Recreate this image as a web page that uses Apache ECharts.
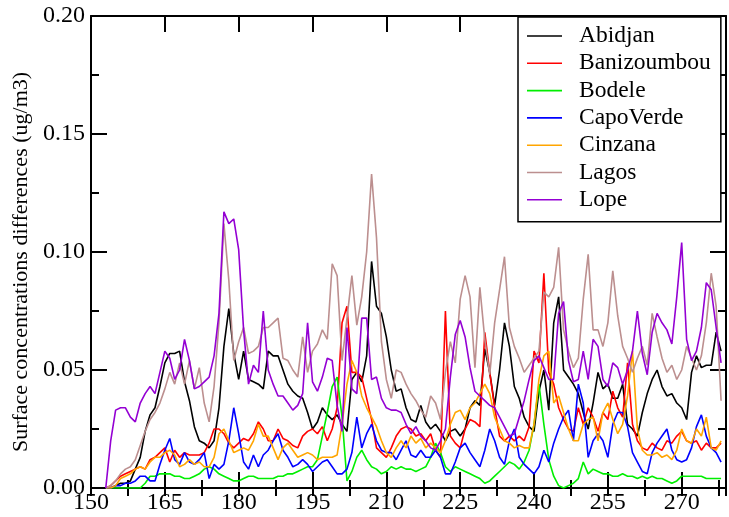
<!DOCTYPE html>
<html>
<head>
<meta charset="utf-8">
<script src="https://cdn.jsdelivr.net/npm/echarts@6/dist/echarts.min.js"></script>
<style>
  html, body { margin: 0; padding: 0; background: #fff; }
  #chart { width: 729px; height: 517px; }
</style>
</head>
<body>
<div id="chart"></div>
<script>
// Daily surface concentration differences (ug/m3), one value per day starting at day 153
const firstDay = 153;

const abidjan = [
  0.000, 0.000, 0.001, 0.002, 0.002, 0.003, 0.008, 0.013, 0.024, 0.031,
  0.034, 0.043, 0.053, 0.057, 0.057, 0.058, 0.045, 0.037, 0.026, 0.020,
  0.019, 0.017, 0.020, 0.034, 0.060, 0.076, 0.057, 0.046, 0.058, 0.046,
  0.045, 0.044, 0.042, 0.058, 0.056, 0.056, 0.050, 0.044, 0.041, 0.039,
  0.038, 0.032, 0.025, 0.028, 0.034, 0.031, 0.029, 0.031, 0.027, 0.024,
  0.046, 0.049, 0.045, 0.056, 0.096, 0.077, 0.074, 0.064, 0.050, 0.041,
  0.042, 0.034, 0.029, 0.028, 0.035, 0.028, 0.025, 0.027, 0.024, 0.020,
  0.024, 0.025, 0.022, 0.025, 0.034, 0.037, 0.035, 0.059, 0.049, 0.035,
  0.050, 0.070, 0.060, 0.043, 0.038, 0.030, 0.026, 0.024, 0.041, 0.050,
  0.033, 0.070, 0.081, 0.050, 0.047, 0.044, 0.040, 0.032, 0.025, 0.036,
  0.049, 0.042, 0.044, 0.038, 0.038, 0.044, 0.027, 0.025, 0.022, 0.032,
  0.040, 0.046, 0.050, 0.043, 0.039, 0.040, 0.036, 0.034, 0.029, 0.049,
  0.056, 0.051, 0.052, 0.052, 0.066, 0.058
];

const banizoumbou = [
  0.000, 0.001, 0.003, 0.005, 0.006, 0.007, 0.008, 0.009, 0.008, 0.012,
  0.013, 0.015, 0.017, 0.011, 0.016, 0.013, 0.015, 0.014, 0.014, 0.014,
  0.015, 0.019, 0.025, 0.025, 0.023, 0.019, 0.017, 0.019, 0.021, 0.020,
  0.023, 0.028, 0.025, 0.020, 0.020, 0.025, 0.021, 0.020, 0.018, 0.017,
  0.022, 0.024, 0.025, 0.023, 0.026, 0.020, 0.025, 0.034, 0.070, 0.077,
  0.049, 0.049, 0.047, 0.038, 0.029, 0.017, 0.015, 0.013, 0.017, 0.022,
  0.025, 0.026, 0.025, 0.022, 0.023, 0.020, 0.023, 0.016, 0.013, 0.075,
  0.022, 0.019, 0.017, 0.025, 0.029, 0.028, 0.026, 0.066, 0.049, 0.034,
  0.022, 0.020, 0.022, 0.020, 0.022, 0.020, 0.026, 0.058, 0.053, 0.091,
  0.049, 0.044, 0.034, 0.029, 0.025, 0.024, 0.034, 0.027, 0.034, 0.030,
  0.024, 0.032, 0.029, 0.041, 0.034, 0.030, 0.053, 0.027, 0.020, 0.017,
  0.016, 0.019, 0.017, 0.016, 0.020, 0.019, 0.022, 0.024, 0.020, 0.019,
  0.020, 0.016, 0.019, 0.017, 0.017, 0.019
];

const bodele = [
  0.000, 0.000, 0.000, 0.000, 0.000, 0.000, 0.000, 0.000, 0.002, 0.005,
  0.005, 0.006, 0.006, 0.006, 0.005, 0.005, 0.004, 0.004, 0.005, 0.006,
  0.008, 0.009, 0.008, 0.006, 0.005, 0.004, 0.003, 0.003, 0.004, 0.005,
  0.005, 0.004, 0.004, 0.004, 0.004, 0.005, 0.005, 0.006, 0.006, 0.007,
  0.008, 0.009, 0.009, 0.012, 0.022, 0.032, 0.043, 0.047, 0.030, 0.003,
  0.007, 0.013, 0.016, 0.012, 0.009, 0.008, 0.006, 0.007, 0.009, 0.008,
  0.009, 0.008, 0.008, 0.007, 0.008, 0.009, 0.013, 0.019, 0.015, 0.009,
  0.007, 0.009, 0.008, 0.007, 0.006, 0.005, 0.004, 0.002, 0.003, 0.005,
  0.007, 0.009, 0.011, 0.010, 0.008, 0.011, 0.016, 0.027, 0.044, 0.027,
  0.012, 0.005, 0.001, 0.000, 0.001, 0.002, 0.004, 0.011, 0.006, 0.008,
  0.007, 0.006, 0.006, 0.005, 0.005, 0.006, 0.005, 0.005, 0.004, 0.005,
  0.004, 0.005, 0.004, 0.004, 0.003, 0.002, 0.003, 0.005, 0.005, 0.005,
  0.005, 0.005, 0.004, 0.004, 0.004, 0.004
];

const capoVerde = [
  0.000, 0.000, 0.001, 0.001, 0.002, 0.002, 0.003, 0.005, 0.005, 0.003,
  0.003, 0.010, 0.016, 0.021, 0.012, 0.010, 0.015, 0.011, 0.010, 0.012,
  0.015, 0.004, 0.010, 0.008, 0.010, 0.020, 0.034, 0.023, 0.011, 0.008,
  0.014, 0.009, 0.014, 0.016, 0.020, 0.023, 0.016, 0.013, 0.009, 0.010,
  0.012, 0.010, 0.007, 0.009, 0.011, 0.012, 0.009, 0.006, 0.006, 0.008,
  0.015, 0.030, 0.017, 0.023, 0.027, 0.020, 0.016, 0.015, 0.015, 0.012,
  0.016, 0.020, 0.014, 0.013, 0.016, 0.013, 0.013, 0.016, 0.013, 0.006,
  0.006, 0.011, 0.017, 0.019, 0.015, 0.012, 0.009, 0.016, 0.025, 0.020,
  0.013, 0.010, 0.020, 0.025, 0.013, 0.010, 0.008, 0.006, 0.009, 0.016,
  0.011, 0.019, 0.025, 0.030, 0.033, 0.020, 0.044, 0.036, 0.013, 0.020,
  0.023, 0.020, 0.013, 0.027, 0.032, 0.032, 0.026, 0.015, 0.011, 0.007,
  0.006, 0.015, 0.019, 0.022, 0.025, 0.016, 0.012, 0.011, 0.012, 0.017,
  0.026, 0.031, 0.022, 0.017, 0.015, 0.011
];

const cinzana = [
  0.000, 0.000, 0.001, 0.004, 0.005, 0.006, 0.008, 0.009, 0.008, 0.011,
  0.013, 0.013, 0.015, 0.016, 0.014, 0.009, 0.010, 0.012, 0.010, 0.011,
  0.009, 0.009, 0.013, 0.023, 0.025, 0.020, 0.015, 0.016, 0.017, 0.016,
  0.020, 0.027, 0.022, 0.022, 0.017, 0.012, 0.017, 0.019, 0.016, 0.013,
  0.014, 0.015, 0.014, 0.012, 0.013, 0.013, 0.013, 0.014, 0.027, 0.044,
  0.054, 0.049, 0.039, 0.034, 0.030, 0.026, 0.020, 0.015, 0.013, 0.017,
  0.020, 0.017, 0.022, 0.019, 0.021, 0.017, 0.019, 0.017, 0.015, 0.020,
  0.027, 0.032, 0.033, 0.029, 0.034, 0.036, 0.040, 0.044, 0.040, 0.030,
  0.025, 0.020, 0.019, 0.017, 0.018, 0.017, 0.017, 0.027, 0.046, 0.056,
  0.058, 0.036, 0.039, 0.032, 0.025, 0.020, 0.020, 0.027, 0.029, 0.030,
  0.020, 0.032, 0.036, 0.029, 0.023, 0.027, 0.039, 0.058, 0.025, 0.016,
  0.014, 0.014, 0.015, 0.013, 0.014, 0.012, 0.016, 0.025, 0.020, 0.019,
  0.025, 0.022, 0.030, 0.017, 0.016, 0.020
];

const lagos = [
  0.000, 0.001, 0.003, 0.006, 0.008, 0.009, 0.012, 0.018, 0.024, 0.029,
  0.032, 0.036, 0.042, 0.049, 0.044, 0.053, 0.044, 0.054, 0.042, 0.051,
  0.036, 0.028, 0.043, 0.070, 0.112, 0.088, 0.054, 0.062, 0.068, 0.057,
  0.058, 0.060, 0.068, 0.068, 0.070, 0.072, 0.055, 0.054, 0.050, 0.047,
  0.064, 0.049, 0.058, 0.061, 0.067, 0.063, 0.095, 0.090, 0.054, 0.072,
  0.090, 0.069, 0.081, 0.100, 0.133, 0.106, 0.062, 0.046, 0.038, 0.050,
  0.049, 0.044, 0.040, 0.037, 0.033, 0.030, 0.039, 0.036, 0.029, 0.049,
  0.062, 0.053, 0.080, 0.090, 0.081, 0.051, 0.085, 0.063, 0.048, 0.070,
  0.084, 0.098, 0.068, 0.060, 0.055, 0.049, 0.052, 0.055, 0.058, 0.083,
  0.081, 0.085, 0.102, 0.067, 0.058, 0.051, 0.055, 0.080, 0.099, 0.067,
  0.067, 0.060, 0.070, 0.092, 0.073, 0.060, 0.055, 0.049, 0.055, 0.060,
  0.052, 0.074, 0.064, 0.055, 0.049, 0.052, 0.046, 0.050, 0.060, 0.055,
  0.050, 0.056, 0.070, 0.091, 0.077, 0.037
];

const lope = [
  0.000, 0.020, 0.033, 0.034, 0.034, 0.030, 0.028, 0.036, 0.040, 0.043,
  0.040, 0.049, 0.058, 0.055, 0.046, 0.050, 0.063, 0.054, 0.042, 0.043,
  0.045, 0.047, 0.056, 0.074, 0.117, 0.112, 0.114, 0.101, 0.067, 0.044,
  0.052, 0.049, 0.075, 0.050, 0.044, 0.039, 0.039, 0.036, 0.033, 0.035,
  0.040, 0.070, 0.045, 0.041, 0.047, 0.055, 0.054, 0.035, 0.024, 0.068,
  0.042, 0.040, 0.072, 0.072, 0.046, 0.047, 0.038, 0.034, 0.033, 0.033,
  0.032, 0.027, 0.023, 0.026, 0.022, 0.020, 0.017, 0.016, 0.020, 0.025,
  0.047, 0.065, 0.071, 0.064, 0.051, 0.041, 0.039, 0.037, 0.035, 0.034,
  0.030, 0.026, 0.022, 0.023, 0.030, 0.037, 0.046, 0.054, 0.056, 0.051,
  0.046, 0.046, 0.074, 0.079, 0.054, 0.045, 0.046, 0.058, 0.046, 0.063,
  0.060, 0.046, 0.043, 0.053, 0.051, 0.044, 0.050, 0.058, 0.075, 0.057,
  0.048, 0.066, 0.074, 0.070, 0.067, 0.061, 0.081, 0.104, 0.063, 0.054,
  0.058, 0.068, 0.087, 0.084, 0.068, 0.053
];

const stationNames = ['Abidjan', 'Banizoumbou', 'Bodele', 'CapoVerde', 'Cinzana', 'Lagos', 'Lope'];
const stationValues = [abidjan, banizoumbou, bodele, capoVerde, cinzana, lagos, lope];
const stationColors = ['#000000', '#ff0000', '#00ee00', '#0000ff', '#ffa500', '#bc8f8f', '#9400d3'];

const xTickLabels = [150, 165, 180, 195, 210, 225, 240, 255, 270];
const yTickLabels = ['0.00', '0.05', '0.10', '0.15', '0.20'];
const yTitle = 'Surface concentrations differences (ug/m3)';

const FONT = 'Liberation Serif';
const X_MIN = 150, X_MAX = 279;

function toPairs(values) {
  return values.map((v, i) => [firstDay + i, v]);
}

const frameLine = { show: true, onZero: false, lineStyle: { color: '#000', width: 2 } };
const tickStyle = { color: '#000', width: 2 };

function xAxisDef(position, interval, tickLen, withLabels, withLine) {
  return {
    type: 'value', min: X_MIN, max: X_MAX, interval: interval, position: position,
    axisLine: withLine ? frameLine : { show: false },
    axisTick: { show: true, inside: true, length: tickLen, lineStyle: tickStyle },
    axisLabel: withLabels ? {
      show: true, color: '#000', fontFamily: FONT, fontSize: 24, margin: 3,
      formatter: v => (xTickLabels.indexOf(v) >= 0 ? String(v) : '')
    } : { show: false },
    splitLine: { show: false }
  };
}

function yAxisDef(position, withLabels) {
  const ax = {
    type: 'value', min: 0, max: 0.2, interval: 0.05, position: position,
    axisLine: frameLine,
    axisTick: { show: true, inside: true, length: 16, lineStyle: tickStyle },
    minorTick: { show: true, splitNumber: 2, length: 8, lineStyle: tickStyle },
    axisLabel: withLabels ? {
      show: true, color: '#000', fontFamily: FONT, fontSize: 24, margin: 6,
      formatter: v => yTickLabels[Math.round(v / 0.05)]
    } : { show: false },
    splitLine: { show: false }
  };
  if (withLabels) {
    ax.name = yTitle;
    ax.nameLocation = 'middle';
    ax.nameRotate = 90;
    ax.nameGap = 58;
    ax.nameTextStyle = { fontFamily: FONT, fontSize: 22, color: '#000', padding: [0, 20, 0, 0] };
  }
  return ax;
}

const chart = echarts.init(document.getElementById('chart'), null, { renderer: 'canvas' });

chart.setOption({
  animation: false,
  backgroundColor: '#fff',
  grid: { left: 91, right: 2, top: 16, bottom: 29, containLabel: false },
  xAxis: [
    xAxisDef('bottom', 15, 16, true, true),
    xAxisDef('top', 15, 16, false, true),
    xAxisDef('bottom', 7.5, 8, false, false),
    xAxisDef('top', 7.5, 8, false, false)
  ],
  yAxis: [yAxisDef('left', true), yAxisDef('right', false)],
  legend: {
    orient: 'vertical', left: 518, top: 17,
    data: stationNames,
    icon: 'rect',
    itemWidth: 35, itemHeight: 1.6, itemGap: 3.3,
    padding: [7, 10, 10, 9],
    borderColor: '#000', borderWidth: 1.5, backgroundColor: '#fff',
    textStyle: { fontFamily: FONT, fontSize: 23.5, lineHeight: 22, color: '#000', padding: [0, 0, 0, 12] }
  },
  series: stationNames.map((name, k) => ({
    name: name, type: 'line', xAxisIndex: 0, yAxisIndex: 0,
    data: toPairs(stationValues[k]),
    symbol: 'none', showSymbol: false,
    color: stationColors[k],
    lineStyle: { color: stationColors[k], width: 1.6 },
    z: 2 + k
  }))
});
</script>
</body>
</html>
